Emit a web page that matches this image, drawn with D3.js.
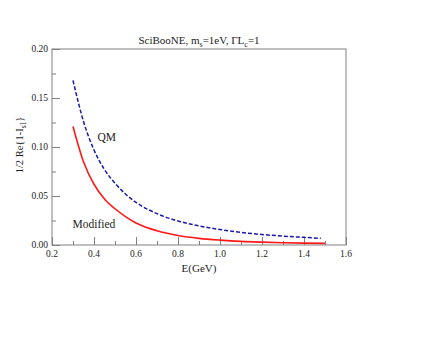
<!DOCTYPE html>
<html>
<head>
<meta charset="utf-8">
<script src="https://cdnjs.cloudflare.com/ajax/libs/d3/7.8.5/d3.min.js"></script>
<style>
	body { margin: 0; background: #fff; }
	svg text { font-family: "Liberation Serif", "DejaVu Serif", serif; fill: #222; }
</style>
</head>
<body>
<div id="chart"></div>
<script>
// E (GeV) and curve values
let qmE = [0.3, 0.35, 0.4, 0.45, 0.5, 0.55, 0.6, 0.7, 0.8, 0.9, 1.0, 1.1, 1.2, 1.3, 1.4, 1.48]
let qmV = [0.168, 0.126, 0.097, 0.077, 0.063, 0.052, 0.0435, 0.032, 0.0245, 0.0195, 0.0158, 0.0128, 0.0107, 0.0091, 0.0078, 0.0068]

let modE = [0.3, 0.35, 0.4, 0.45, 0.5, 0.55, 0.6, 0.7, 0.8, 0.9, 1.0, 1.1, 1.2, 1.3, 1.4, 1.5]
let modV = [0.121, 0.085, 0.062, 0.047, 0.037, 0.029, 0.0225, 0.0145, 0.0097, 0.0068, 0.005, 0.0037, 0.0029, 0.0023, 0.0019, 0.0017]

let xTicks = [0.2, 0.4, 0.6, 0.8, 1.0, 1.2, 1.4, 1.6]
let xMinor = [0.3, 0.5, 0.7, 0.9, 1.1, 1.3, 1.5]
let yTicks = [0.00, 0.05, 0.10, 0.15, 0.20]
let yMinor = [0.025, 0.075, 0.125, 0.175]

function draw(){
	let margin = {top: 49, left: 52},
	width = 294,
	height = 196

	let svg = d3.select('#chart')
	  .append('svg')
	    .attr('width', 443)
	    .attr('height', 345)

	let g = svg.append('g')
	    .attr('transform', 'translate(' + margin.left + ',' + margin.top + ')')

	let x = d3.scaleLinear().domain([0.2, 1.6]).range([0, width])
	let y = d3.scaleLinear().domain([0, 0.2]).range([height, 0])

	let frame = '#808080'

	// frame
	g.append('rect')
		.attr('width', width)
		.attr('height', height)
		.attr('fill', 'none')
		.attr('stroke', frame)
		.attr('stroke-width', 1)

	// ticks point inwards
	let xAxis = g.append('g')
		.attr('transform', 'translate(0,' + height + ')')
		.call(d3.axisTop(x).tickValues(xTicks).tickSize(8).tickFormat(''))
	xAxis.select('.domain').remove()
	xAxis.selectAll('line').attr('stroke', frame)

	let xAxisMinor = g.append('g')
		.attr('transform', 'translate(0,' + height + ')')
		.call(d3.axisTop(x).tickValues(xMinor).tickSize(4).tickFormat(''))
	xAxisMinor.select('.domain').remove()
	xAxisMinor.selectAll('line').attr('stroke', frame)

	g.selectAll('.xlab')
		.data(xTicks)
		.enter()
		.append('text')
		.attr('x', d => x(d))
		.attr('y', height + 12)
		.attr('text-anchor', 'middle')
		.style('font-size', '9.5px')
		.text(d => d3.format('.1f')(d))

	let yAxis = g.append('g')
		.call(d3.axisRight(y).tickValues(yTicks).tickSize(8).tickFormat(''))
	yAxis.select('.domain').remove()
	yAxis.selectAll('line').attr('stroke', frame)

	let yAxisMinor = g.append('g')
		.call(d3.axisRight(y).tickValues(yMinor).tickSize(4).tickFormat(''))
	yAxisMinor.select('.domain').remove()
	yAxisMinor.selectAll('line').attr('stroke', frame)

	g.selectAll('.ylab')
		.data(yTicks)
		.enter()
		.append('text')
		.attr('x', -4)
		.attr('y', d => y(d) + 3)
		.attr('text-anchor', 'end')
		.style('font-size', '9.5px')
		.text(d => d3.format('.2f')(d))

	let line = d3.line()
		.x(d => x(d[0]))
		.y(d => y(d[1]))
		.curve(d3.curveMonotoneX)

	g.append('path')
		.datum(modE.map((e, i) => [e, modV[i]]))
		.attr('fill', 'none')
		.attr('stroke', '#ff1a1a')
		.attr('stroke-width', 1.6)
		.attr('d', line)

	g.append('path')
		.datum(qmE.map((e, i) => [e, qmV[i]]))
		.attr('fill', 'none')
		.attr('stroke', '#1a1aaa')
		.attr('stroke-width', 1.5)
		.attr('stroke-dasharray', '4,2')
		.attr('d', line)

	// curve labels
	g.append('text')
		.attr('x', 45.5)
		.attr('y', 91.5)
		.style('font-size', '11.5px')
		.text('QM')

	g.append('text')
		.attr('x', 20.5)
		.attr('y', 178.5)
		.style('font-size', '11.5px')
		.text('Modified')

	// title
	let title = svg.append('text')
		.attr('x', 199)
		.attr('y', 44)
		.attr('text-anchor', 'middle')
		.style('font-size', '11px')
	title.append('tspan').text('SciBooNE, m')
	title.append('tspan').attr('dy', 2.5).style('font-size', '8px').text('s')
	title.append('tspan').attr('dy', -2.5).text('=1eV, \u0393L')
	title.append('tspan').attr('dy', 2.5).style('font-size', '8px').text('c')
	title.append('tspan').attr('dy', -2.5).text('=1')

	// x label
	svg.append('text')
		.attr('x', 199)
		.attr('y', 272)
		.attr('text-anchor', 'middle')
		.style('font-size', '11px')
		.text('E(GeV)')

	// y label
	let ylab = svg.append('text')
		.attr('transform', 'translate(23,145) rotate(-90)')
		.attr('text-anchor', 'middle')
		.style('font-size', '10.5px')
	ylab.append('tspan').text('1/2 Re{1-I')
	ylab.append('tspan').attr('dy', 2.5).style('font-size', '7.5px').text('s1')
	ylab.append('tspan').attr('dy', -2.5).text('}')
}

draw()
</script>
</body>
</html>
